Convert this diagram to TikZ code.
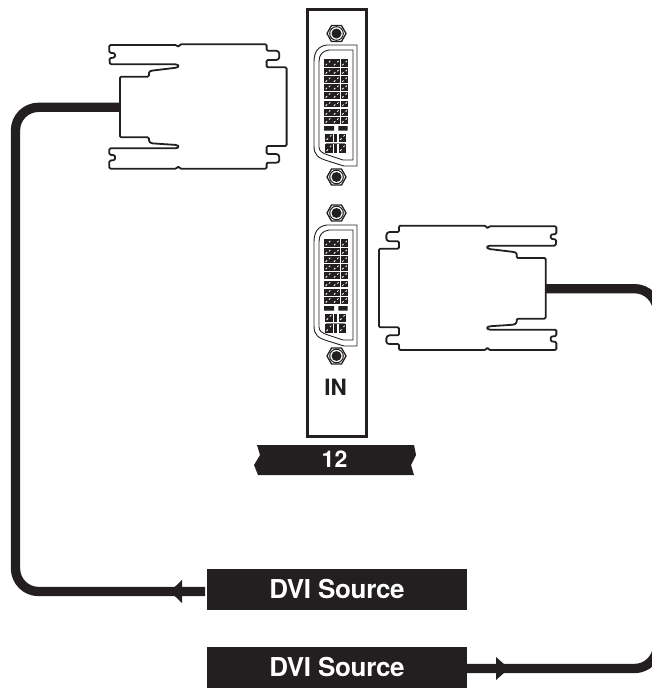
\documentclass[tikz,border=0pt]{standalone}
\usepackage{fontspec}
\setmainfont{TeX Gyre Heros}
\newfontfamily\tightfont[LetterSpace=-1.2]{TeX Gyre Heros}
\definecolor{ink}{HTML}{231F20}
\tikzset{
  labelbox/.style={fill=ink,text=white,font=\tightfont\fontsize{26}{26}\selectfont\bfseries,inner sep=0pt,minimum width=260pt,minimum height=41pt},
  cable/.style={draw=ink,line width=9.3pt,rounded corners=23pt},
  plug/.style={draw=ink,line width=1.8pt,rounded corners=1.2pt,fill=white,line join=round},
  tipshape/.style={fill=ink,draw=none},
  shellline/.style={draw=ink,line width=0.9pt},
}
\newcommand{\plugpath}{
  (360,140)--(447,140)--(447,125)--(455,122)--(530,113)--(538,108)--(530,103)--(330,103)--(328,85)--(345,82)--(345,70)--(328,68)--(328,45)--(530,45)--(535,52)--(540,43)--(800,43)--(800,62)--(832,62)--(838,68)--(838,85)--(832,90)--(800,90)--(800,112)--(860,112)--(860,348)--(800,348)--(800,372)--(832,372)--(838,378)--(838,395)--(832,398)--(800,398)--(800,416)--(540,416)--(535,408)--(530,416)--(328,416)--(328,392)--(345,390)--(345,376)--(328,374)--(328,355)--(530,355)--(538,350)--(530,345)--(455,340)--(447,335)--(447,322)--(360,322)--cycle
}
\newcommand{\screwat}[2]{%
  \draw[ink,line width=1.3pt,fill=white] (#1-9.5,#2)--(#1-5,#2-8)--(#1+5,#2-8)--(#1+9.5,#2)--(#1+5,#2+8)--(#1-5,#2+8)--cycle;
  \draw[ink,line width=1pt] (#1,#2) circle[radius=6.8];
  \fill[ink] (#1,#2) circle[radius=5];
}
\newcommand{\dviport}[1]{%
  \begin{scope}[yshift=-#1pt]
    \draw[shellline] (357,45)--(327,45)..controls (318,46) and (314,52)..(314,62)--(314,146)..controls (314,155) and (318,158)..(328,161)--(344,166)--(357,166)--cycle;
    \draw[shellline] (353,50)--(329,50)..controls (322,51) and (319,55)..(319,62)--(319,147)..controls (319,151) and (322,153)..(328,155)--(343,160)--(353,160)--cycle;
    \foreach \ya/\yb in {59.3/66.7,68.3/75,76/83.3,84/90.7,91.7/99,100.7/107.3,108.7/116,116.7/124}{
      \foreach \xa in {324,332.3,340.6}{
        \fill[ink] (\xa,\ya) rectangle (\xa+7.6,\yb);
        \draw[white,line width=0.8pt] (\xa+1.6,\yb-1.4)--(\xa+3,\yb-2.8);
        \draw[white,line width=0.8pt] (\xa+5,\ya+3)--(\xa+6.2,\ya+1.6);
      }
    }
    \fill[ink] (324,126)rectangle(334,130.7) (338.3,126)rectangle(347.7,130.7);
    \foreach \xa/\xb in {325/333,338.5/346}{
      \foreach \ya/\yb in {133.5/141.5,144/152.5}{
        \fill[ink] (\xa,\ya) rectangle (\xb,\yb);
        \draw[white,line width=0.8pt] (\xa+1.5,\yb-1.5)--(\xa+3,\yb-3);
        \draw[white,line width=0.8pt] (\xa+5,\ya+3)--(\xa+6.2,\ya+1.6);
      }
    }
    \fill[ink] (334.4,133.5) rectangle (337.4,152.5);
    \fill[white] (325,141.8) rectangle (346,143.8);
    \draw[ink!55,line width=0.5pt] (326,142.8)--(345,142.8);
  \end{scope}
}
\begin{document}
\begin{tikzpicture}[x=1pt,y=-1pt]
\useasboundingbox (0,0) rectangle (652,688);
% panel
\node[draw=ink,line width=3pt,minimum width=59pt,minimum height=427.5pt,inner sep=0pt,outer sep=0pt,anchor=north west] (panel) at (307,9) {};
\screwat{336.5}{33.5}
\screwat{336.5}{177}
\dviport{0}
\screwat{336.5}{213}
\screwat{336.5}{356}
\dviport{180}
\node[font=\fontsize{22.5}{22.5}\selectfont\bfseries,text=ink,inner sep=0pt] (inlabel) at (335.5,387) {IN};
% banner
\fill[ink] (257,445)--(414,445)--(416,455)--(411,465)--(414,475)--(258,475)--(254,465)--(260,455)--cycle;
\node[font=\fontsize{23}{23}\selectfont\bfseries,text=white,inner sep=0pt] (num) at (334.5,459) {12};
% sources
\node[labelbox] (srcA) at (337,589.5) {DVI Source};
\node[labelbox] (srcB) at (337,667) {DVI Source};
% plugs
\begin{scope}[shift={(0,30)},x=0.3333pt,y=-0.3333pt]
  \draw[plug] \plugpath;
  \coordinate (plugA) at (360,232);
\end{scope}
\begin{scope}[shift={(665.67,211.33)},x=-0.3333pt,y=-0.3333pt]
  \draw[plug] \plugpath;
  \coordinate (plugB) at (360,232);
\end{scope}
% cables
\coordinate (turnA) at (15.5,591.5);
\coordinate (turnB) at (657.5,668.5);
\coordinate (srcAout) at (205,591.5);
\draw[cable] (plugA) -| (turnA) -- (srcAout);
\draw[cable] (plugB) -| (turnB) -- (srcB.east |- turnB);
% arrowheads
\fill[tipshape] (170,591.5)--(182,580)--(182,603)--cycle;
\fill[tipshape] (509,668.5)--(496,657)--(496,680)--cycle;
\end{tikzpicture}
\end{document}
